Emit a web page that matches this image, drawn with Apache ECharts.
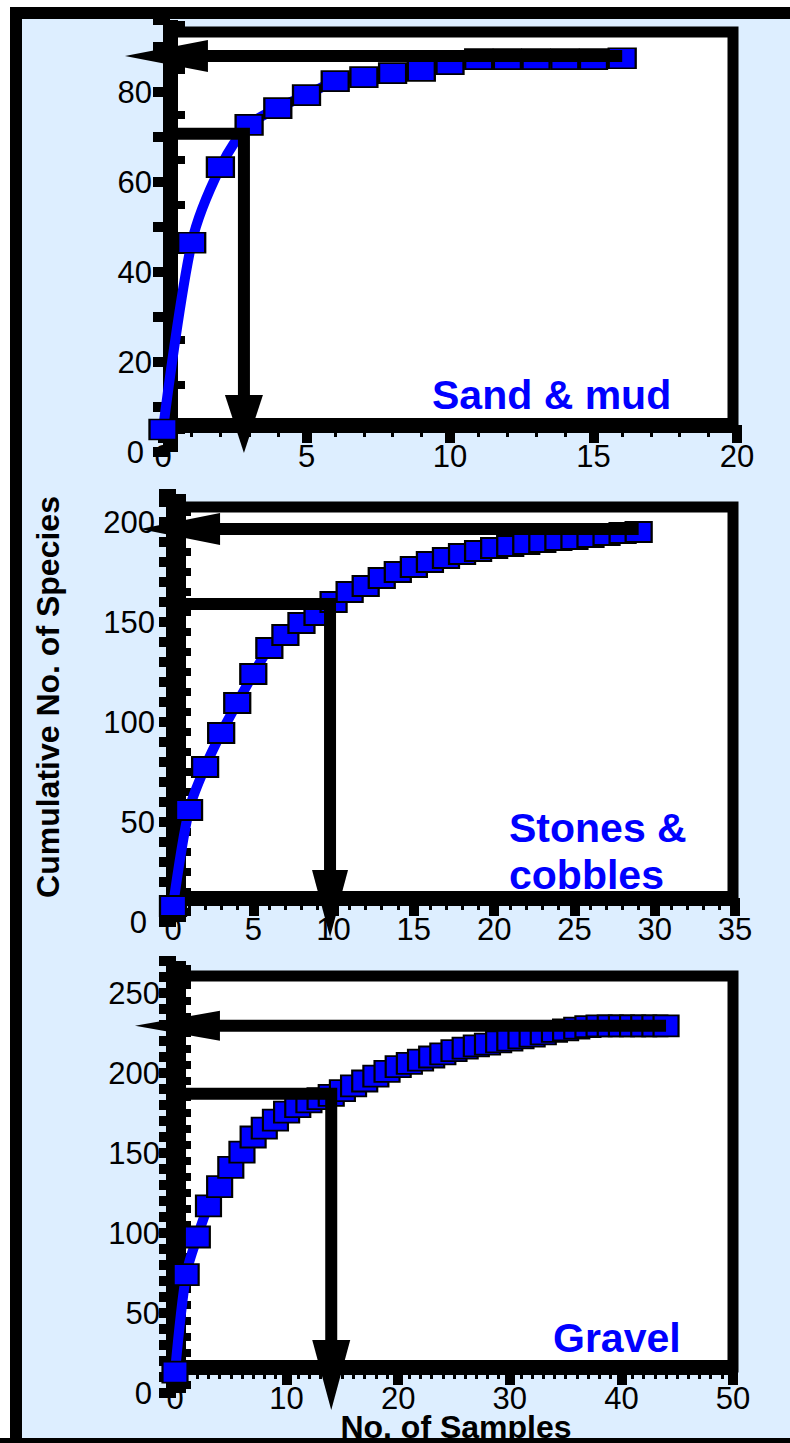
<!DOCTYPE html>
<html>
<head>
<meta charset="utf-8">
<script src="https://cdn.jsdelivr.net/npm/echarts@6/dist/echarts.min.js"></script>
<style>
html, body { margin: 0; padding: 0; background: #fff; overflow: hidden; }
#chart { width: 790px; height: 1443px; }
</style>
</head>
<body>
<div id="chart"></div>
<script>
// cumulative no. of species against no. of samples
var sandSpecies = [5, 46.5, 63.3, 72.7, 76.4, 79.3, 82.4, 83.3, 84.2, 84.7, 86.2, 87.3, 87.3, 87.3, 87.3, 87.3, 87.5];
var stoneSpecies = [8, 56, 77.5, 94.5, 109.5, 124, 137, 143.5, 149.5, 153.5, 160, 165, 168, 172, 175, 177.5, 180, 182, 184, 185.5,
    187, 188, 189, 190, 191, 191.5, 192.5, 193.5, 194.5, 195];
var gravelSpecies = [13, 74, 97.5, 117, 129, 141, 150.5, 160, 165.5, 170.5, 175.5, 179, 182, 184, 186, 189, 192, 195, 198, 201,
    204, 206, 208, 210, 212, 214, 215.5, 217, 218, 219.5, 220.5, 222, 223, 224.5, 226, 227, 228, 229, 229.5, 229.5,
    229.5, 229.5, 229.5, 229.5, 229.5];

var panelNames = ['Sand & mud', 'Stones &', 'cobbles', 'Gravel'];
var xMax = [20, 35, 50];
var xStep = [5, 5, 10];
var yMax = [96, 214, 270];
var yLabelStep = [20, 50, 50];
// total species (upper arrow) and the point (L-shaped arrow)
var plateau = [88, 196.5, 229.5];
var markX = [2.82, 9.78, 14];
var markY = [70.7, 159, 187];

var BLUE = '#0000ff';
var FONT = '"Liberation Sans", Arial, sans-serif';

// pixel layout of each panel: data grid, white framed box, arrow heads
var layout = [
    {
        grid: { left: 163, right: 53, top: 20, bottom: 991 },
        frame: { left: 170, right: 57, top: 32, bottom: 1018 },
        xOffset: -27, yOffset: -7, yLine: 15, labelMargin: 18, symbolSize: [27, 20],
        headLeft: { x: 0.12, size: [32, 83] }, headDown: { y: 6.2, size: [38, 58] }
    },
    {
        grid: { left: 173, right: 55, top: 494, bottom: 521 },
        frame: { left: 176, right: 57, top: 507, bottom: 545 },
        xOffset: -24, yOffset: -3, yLine: 20, labelMargin: 21, symbolSize: [26, 20],
        headLeft: { x: 0.44, size: [32, 80] }, headDown: { y: 9.25, size: [36, 67] }
    },
    {
        grid: { left: 175, right: 57, top: 961, bottom: 50 },
        frame: { left: 176, right: 57, top: 976, bottom: 76 },
        xOffset: -26, yOffset: -1, yLine: 20, labelMargin: 16, symbolSize: [25, 21],
        headLeft: { x: 0.22, size: [30, 85] }, headDown: { y: 11.25, size: [38, 70] }
    }
];

var species = [sandSpecies, stoneSpecies, gravelSpecies];

var grids = [], xAxes = [], yAxes = [], series = [];

for (let i = 0; i < 3; i++) {
    var L = layout[i];
    // white box with thick black frame
    grids.push(Object.assign({
        show: true, backgroundColor: '#fff', borderColor: '#000', borderWidth: 11
    }, L.frame));
    xAxes.push({ gridIndex: grids.length - 1, type: 'value', show: false, min: 0, max: 1 });
    yAxes.push({ gridIndex: grids.length - 1, type: 'value', show: false, min: 0, max: 1 });

    // data grid
    grids.push(Object.assign({ show: false }, L.grid));
    var g = grids.length - 1;
    xAxes.push({
        gridIndex: g, type: 'value', position: 'bottom', offset: L.xOffset,
        min: 0, max: xMax[i], interval: xStep[i],
        axisLine: { show: true, onZero: false, lineStyle: { color: '#000', width: 15, cap: 'butt' } },
        axisTick: { show: true, length: 18, lineStyle: { color: '#000', width: 10, cap: 'butt' } },
        minorTick: { show: true, splitNumber: xStep[i], length: 12, lineStyle: { color: '#000', width: 3 } },
        splitLine: { show: false },
        axisLabel: { margin: 16, fontSize: 31, color: '#000', fontFamily: FONT }
    });
    var xi = xAxes.length - 1;
    yAxes.push({
        gridIndex: g, type: 'value', position: 'left', offset: L.yOffset,
        min: 0, max: yMax[i], interval: 10,
        axisLine: { show: true, onZero: false, lineStyle: { color: '#000', width: L.yLine, cap: 'butt' } },
        axisTick: { show: true, length: 17, lineStyle: { color: '#000', width: 10, cap: 'butt' } },
        splitLine: { show: false },
        axisLabel: {
            margin: L.labelMargin, fontSize: 31, color: '#000', fontFamily: FONT,
            formatter: function (v) {
                if (v === 0) return '{z|0}';
                return v % yLabelStep[i] === 0 ? String(v) : '';
            },
            rich: { z: { fontSize: 31, color: '#000', fontFamily: FONT, padding: [0, 8, 0, 0] } }
        }
    });
    var yi = yAxes.length - 1;
    // inner half ticks
    yAxes.push({
        gridIndex: g, type: 'value', position: 'left', offset: L.yOffset,
        min: 0, max: yMax[i], interval: 10,
        axisLine: { show: false }, axisLabel: { show: false }, splitLine: { show: false },
        axisTick: { show: false, inside: true },
        minorTick: { show: true, splitNumber: 2, length: 15, lineStyle: { color: '#000', width: 8, cap: 'butt' } }
    });

    series.push({
        type: 'line', xAxisIndex: xi, yAxisIndex: yi,
        data: species[i].map(function (v, k) { return [k, v]; }),
        smooth: 0.3, symbol: 'rect', symbolSize: L.symbolSize,
        lineStyle: { color: BLUE, width: 10 },
        itemStyle: { color: BLUE, borderColor: '#000', borderWidth: 2, opacity: 1 },
        z: 3, clip: false
    });
    // arrow shafts
    series.push({
        type: 'line', xAxisIndex: xi, yAxisIndex: yi, symbol: 'none', z: 5, clip: false,
        data: [[species[i].length - 1, plateau[i]], [0, plateau[i]]],
        lineStyle: { color: '#000', width: 12, cap: 'butt' }
    });
    series.push({
        type: 'line', xAxisIndex: xi, yAxisIndex: yi, symbol: 'none', z: 5, clip: false,
        data: [[0, markY[i]], [markX[i], markY[i]], [markX[i], L.headDown.y]],
        lineStyle: { color: '#000', width: 12, join: 'miter', cap: 'butt' }
    });
    // arrow heads
    series.push({
        type: 'scatter', xAxisIndex: xi, yAxisIndex: yi, symbol: 'triangle', z: 6, clip: false,
        itemStyle: { color: '#000', opacity: 1 },
        data: [
            { value: [L.headLeft.x, plateau[i]], symbolSize: L.headLeft.size, symbolRotate: 90 },
            { value: [markX[i], L.headDown.y], symbolSize: L.headDown.size, symbolRotate: 180 }
        ]
    });
}

function label(text, x, y, size, color) {
    return {
        type: 'text', x: x, y: y, z: 20,
        style: {
            text: text, fill: color, font: 'bold ' + size + 'px ' + FONT,
            textAlign: 'left', textVerticalAlign: 'middle', align: 'left', verticalAlign: 'middle'
        }
    };
}

var option = {
    animation: false,
    textStyle: { fontFamily: FONT },
    grid: grids,
    xAxis: xAxes,
    yAxis: yAxes,
    series: series,
    graphic: [
        {
            type: 'rect', z: -1,
            shape: { x: 16, y: 13, width: 790, height: 1431 },
            style: { fill: '#ddeeff', stroke: '#000', lineWidth: 12 }
        },
        label(panelNames[0], 432, 395, 41, BLUE),
        label(panelNames[1], 509, 828, 41, BLUE),
        label(panelNames[2], 509, 875, 41, BLUE),
        label(panelNames[3], 553, 1338, 41, BLUE),
        {
            type: 'text', x: 48, y: 697, rotation: Math.PI / 2, z: 20,
            style: {
                text: 'Cumulative No. of Species', fill: '#000', font: 'bold 32px ' + FONT,
                textAlign: 'center', textVerticalAlign: 'middle', align: 'center', verticalAlign: 'middle'
            }
        },
        {
            type: 'text', x: 456, y: 1427, z: 20,
            style: {
                text: 'No. of Samples', fill: '#000', font: 'bold 32px ' + FONT, lineHeight: 24,
                textAlign: 'center', textVerticalAlign: 'middle', align: 'center', verticalAlign: 'middle'
            }
        },
        {
            type: 'rect', z: 21,
            shape: { x: 0, y: 1438, width: 790, height: 5 },
            style: { fill: '#000' }
        }
    ]
};

var chart = echarts.init(document.getElementById('chart'), null, { renderer: 'svg' });
chart.setOption(option);
</script>
</body>
</html>
